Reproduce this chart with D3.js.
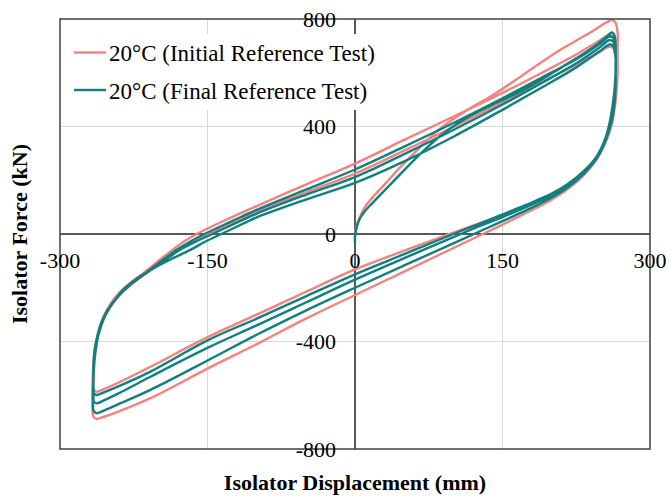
<!DOCTYPE html>
<html>
<head>
<meta charset="utf-8">
<script src="https://cdn.jsdelivr.net/npm/d3@7"></script>
<style>
  body { margin: 0; background: #ffffff; }
  svg { display: block; }
</style>
</head>
<body>
<div id="chart"></div>
<script>
// Axis ticks
const xTicks = [-300, -150, 0, 150, 300];
const yTicks = [-800, -400, 0, 400, 800];
const xGrid = [-150, 150];
const yGrid = [-400, 400];

// 20°C initial reference test: [displacement mm, force kN]
const pinkVirgin = [[0,0],[1,20],[3,45],[6,72],[11,105],[20,145],[32,192],[45,245],[60,300],[75,355],[90,402],[105,440],[120,474],[135,505],[150,540],[170,590],[190,640],[210,688],[230,730],[246,765],[256,788],[262,796]];
const pinkDown1 = [[265,785],[267,750],[267,680],[267,600],[266,530],[264,465],[261,405],[255,342],[246,278],[232,216],[216,166],[200,128],[182,93],[165,62],[150,35],[130,0],[100,-52],[50,-140],[0,-227],[-50,-315],[-100,-410],[-149,-499],[-208,-611],[-240,-660],[-256,-681],[-263,-688],[-266,-680]];
const pinkUp1 = [[-267,-640],[-267,-560],[-266,-490],[-264,-425],[-261,-365],[-256,-310],[-249,-262],[-240,-220],[-228,-180],[-214,-142],[-200,-100],[-186,-60],[-174,-28],[-161,0],[-130,55],[-100,104],[-50,184],[0,262],[50,350],[100,437],[150,525],[190,600],[225,668],[248,718],[258,740]];
const pinkDown2 = [[263,733],[265,710],[266,660],[266,600],[265,540],[264,480],[261,418],[255,350],[246,288],[232,230],[216,182],[200,146],[182,117],[165,92],[150,70],[125,38],[100,5],[50,-62],[0,-132],[-50,-215],[-100,-300],[-149,-382],[-208,-494],[-240,-552],[-256,-578],[-263,-587],[-266,-577]];
const pinkUp2 = [[-266,-545],[-266,-495],[-265,-450],[-263,-400],[-259,-348],[-253,-298],[-245,-252],[-235,-212],[-222,-172],[-208,-136],[-193,-95],[-178,-58],[-163,-26],[-149,0],[-120,50],[-100,84],[-50,155],[0,225],[50,310],[100,398],[150,490],[190,565],[225,630],[248,675],[258,697],[263,690],[264,670]];

// 20°C final reference test
const tealVirgin = [[0,-33],[0,-10],[1,12],[2.5,35],[5,58],[9,80],[15,105],[25,143],[38,192],[52,245],[70,310],[86,363],[103,408],[120,445],[137,476],[154,505],[171,535],[190,575],[210,620],[230,665],[246,705],[256,735],[261,750]];
const tealDown1 = [[264,738],[265,700],[265,620],[265,555],[264,492],[261,420],[255,350],[246,283],[232,222],[216,173],[200,136],[182,102],[165,73],[150,48],[130,15],[100,-35],[50,-117],[0,-200],[-50,-285],[-100,-375],[-149,-469],[-208,-580],[-240,-632],[-256,-658],[-263,-667],[-266,-657]];
const tealUp1 = [[-266,-610],[-266,-540],[-265,-475],[-263,-415],[-260,-360],[-255,-306],[-247,-258],[-237,-216],[-225,-176],[-211,-139],[-196,-98],[-181,-58],[-167,-27],[-153,0],[-125,48],[-100,90],[-50,165],[0,240],[50,325],[100,413],[150,505],[190,582],[225,650],[248,705],[259,735]];
const tealDown2 = [[263,728],[264,705],[265,660],[265,600],[264,540],[263,485],[260,418],[254,350],[246,287],[232,228],[216,180],[200,144],[182,113],[165,86],[150,63],[125,27],[100,-12],[50,-90],[0,-170],[-50,-255],[-100,-340],[-149,-422],[-208,-531],[-240,-592],[-256,-620],[-263,-630],[-266,-620]];
const tealUp2 = [[-266,-580],[-266,-515],[-265,-460],[-263,-405],[-259,-352],[-254,-302],[-246,-255],[-236,-213],[-223,-173],[-209,-137],[-193,-96],[-177,-57],[-160,-25],[-145,0],[-118,46],[-100,76],[-50,146],[0,212],[50,297],[100,387],[150,482],[190,562],[225,635],[248,692],[259,722]];
const tealDown3 = [[263,714],[264,692],[265,650],[265,595],[264,540],[262,478],[259,415],[254,350],[246,290],[232,232],[216,185],[200,150],[182,121],[165,95],[147,68],[125,36],[100,0],[50,-75],[0,-150],[-50,-232],[-100,-315],[-149,-394],[-208,-512],[-240,-566],[-256,-590],[-263,-599],[-266,-590]];
const tealUp3 = [[-266,-555],[-266,-490],[-265,-435],[-262,-380],[-258,-330],[-252,-285],[-244,-245],[-236,-208],[-219,-159],[-202,-122],[-185,-90],[-168,-60],[-152,-28],[-136,0],[-110,45],[-100,62],[-50,128],[0,190],[50,270],[100,362],[150,462],[190,545],[225,620],[248,678],[259,705],[263,698],[264,680]];

const series = [
    { name: '20°C (Initial Reference Test)', color: '#f4827f',
      points: pinkVirgin.concat(pinkDown1, pinkUp1, pinkDown2, pinkUp2) },
    { name: '20°C (Final Reference Test)', color: '#10807f',
      points: tealVirgin.concat(tealDown1, tealUp1, tealDown2, tealUp2, tealDown3, tealUp3) }
];

const width = 667;
const height = 497;
const plotLeft = 60, plotRight = 650, plotTop = 19, plotBottom = 449;
const serif = '"Liberation Serif", "Times New Roman", serif';

const svg = d3.select('#chart')
    .append('svg')
    .attr('width', width)
    .attr('height', height);

svg.append('rect').attr('width', width).attr('height', height).attr('fill', '#ffffff');

const x = d3.scaleLinear().domain([-300, 300]).range([plotLeft, plotRight]);
const y = d3.scaleLinear().domain([-800, 800]).range([plotBottom, plotTop]);

// Light grid
svg.selectAll('line.vgrid')
    .data(xGrid)
    .enter()
    .append('line')
        .attr('x1', d => x(d)).attr('x2', d => x(d))
        .attr('y1', plotTop).attr('y2', plotBottom)
        .attr('stroke', '#d9d9d9')
        .attr('stroke-width', 1);

svg.selectAll('line.hgrid')
    .data(yGrid)
    .enter()
    .append('line')
        .attr('x1', plotLeft).attr('x2', plotRight)
        .attr('y1', d => y(d)).attr('y2', d => y(d))
        .attr('stroke', '#d9d9d9')
        .attr('stroke-width', 1);

// Axes through the origin
svg.append('line')
    .attr('x1', plotLeft).attr('x2', plotRight)
    .attr('y1', y(0)).attr('y2', y(0))
    .attr('stroke', '#595959').attr('stroke-width', 2);
svg.append('line')
    .attr('x1', x(0)).attr('x2', x(0))
    .attr('y1', plotTop).attr('y2', plotBottom)
    .attr('stroke', '#595959').attr('stroke-width', 2);

// Hysteresis loops
const line = d3.line()
    .x(d => x(d[0]))
    .y(d => y(d[1]))
    .curve(d3.curveCatmullRom.alpha(0.5));

svg.selectAll('path.loop')
    .data(series)
    .enter()
    .append('path')
        .attr('d', d => line(d.points))
        .attr('fill', 'none')
        .attr('stroke', d => d.color)
        .attr('stroke-width', 2.4)
        .attr('stroke-linejoin', 'round');

// Plot frame
svg.append('rect')
    .attr('x', plotLeft).attr('y', plotTop)
    .attr('width', plotRight - plotLeft).attr('height', plotBottom - plotTop)
    .attr('fill', 'none')
    .attr('stroke', '#404040')
    .attr('stroke-width', 1.5);

// Legend (white box hides the grid behind it)
svg.append('rect')
    .attr('x', 62).attr('y', 34)
    .attr('width', 318).attr('height', 76)
    .attr('fill', '#ffffff');

const legend = svg.selectAll('g.legend')
    .data(series)
    .enter()
    .append('g')
        .attr('transform', (d, i) => `translate(0, ${52.5 + i * 37.5})`);
legend.append('line')
    .attr('x1', 74).attr('x2', 106)
    .attr('stroke', d => d.color)
    .attr('stroke-width', 2.4);
legend.append('text')
    .attr('x', 109).attr('y', 8.5)
    .text(d => d.name)
    .attr('font-family', serif)
    .attr('font-size', '23px')
    .attr('fill', '#000000');

// Tick labels
svg.selectAll('text.xtick')
    .data(xTicks)
    .enter()
    .append('text')
        .attr('x', d => x(d))
        .attr('y', y(0) + 34)
        .attr('text-anchor', 'middle')
        .text(d => d)
        .attr('font-family', serif)
        .attr('font-size', '22px')
        .attr('fill', '#000000');

svg.selectAll('text.ytick')
    .data(yTicks)
    .enter()
    .append('text')
        .attr('x', x(0) - 19)
        .attr('y', d => y(d) + 7.5)
        .attr('text-anchor', 'end')
        .text(d => d)
        .attr('font-family', serif)
        .attr('font-size', '22px')
        .attr('fill', '#000000');

// Axis titles
svg.append('text')
    .attr('x', x(0))
    .attr('y', 490)
    .attr('text-anchor', 'middle')
    .text('Isolator Displacement (mm)')
    .attr('font-family', serif)
    .attr('font-size', '22px')
    .attr('font-weight', 'bold');

svg.append('text')
    .attr('transform', `translate(27, ${y(0)}) rotate(-90)`)
    .attr('text-anchor', 'middle')
    .text('Isolator Force (kN)')
    .attr('font-family', serif)
    .attr('font-size', '22px')
    .attr('font-weight', 'bold');
</script>
</body>
</html>
